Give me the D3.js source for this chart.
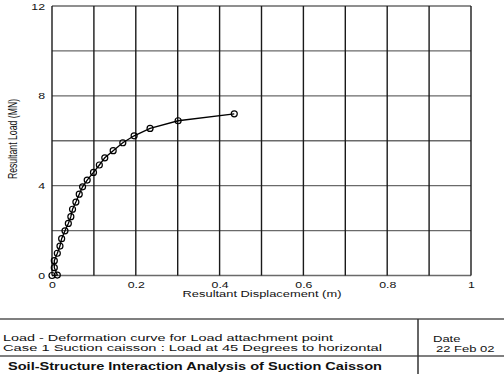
<!DOCTYPE html>
<html>
<head>
<meta charset="utf-8">
<script src="https://cdn.jsdelivr.net/npm/d3@7"></script>
<style>
  html, body { margin: 0; padding: 0; background: #fff; }
  svg { display: block; font-family: "Liberation Sans", Arial, sans-serif; }
</style>
</head>
<body>
<svg id="chart" width="504" height="374"></svg>
<script>
// ---- data ----
const displacement = [0, 0.0127, 0.0055, 0.0055, 0.0127, 0.019, 0.023, 0.031, 0.039, 0.045, 0.049,
  0.057, 0.065, 0.073, 0.084, 0.099, 0.113, 0.126, 0.146, 0.169, 0.196, 0.234, 0.301, 0.435];
const load = [0, 0.02, 0.35, 0.66, 0.99, 1.31, 1.64, 1.99, 2.32, 2.62, 2.95,
  3.27, 3.62, 3.95, 4.25, 4.59, 4.92, 5.24, 5.56, 5.91, 6.22, 6.55, 6.89, 7.20];
const xTickValues = [0, 0.2, 0.4, 0.6, 0.8, 1];
const xTickLabels = ["0", "0.2", "0.4", "0.6", "0.8", "1"];
const xGridValues = [0, 0.1, 0.2, 0.3, 0.4, 0.5, 0.6, 0.7, 0.8, 0.9, 1];
const yTickValues = [0, 4, 8, 12];
const yTickLabels = ["0", "4", "8", "12"];
const yGridValues = [0, 2, 4, 6, 8, 10, 12];
const xTitle = "Resultant Displacement (m)";
const yTitle = "Resultant Load (MN)";
const tableLine1 = "Load - Deformation curve for Load attachment point";
const tableLine2 = "Case 1 Suction caisson : Load at 45 Degrees to horizontal";
const tableTitle = "Soil-Structure Interaction Analysis of Suction Caisson";
const dateLabel = "Date";
const dateValue = "22 Feb 02";

const points = displacement.map((d, i) => ({ x: d, y: load[i] }));

const svg = d3.select("#chart");
const SX = 1.4; // horizontal stretch of the original text

const x = d3.scaleLinear().domain([0, 1]).range([52, 471]);
const y = d3.scaleLinear().domain([0, 12]).range([275.5, 6]);

function stretchedText(g, px, py, str, size, anchor, weight) {
  return g.append("text")
    .attr("transform", `translate(${px},${py}) scale(${SX},1)`)
    .attr("text-anchor", anchor || "start")
    .attr("font-size", size)
    .attr("font-weight", weight || "normal")
    .attr("fill", "#111")
    .text(str);
}

// grid: horizontal (grey) lines
svg.append("g").selectAll("line").data(yGridValues).join("line")
  .attr("x1", x(0)).attr("x2", x(1))
  .attr("y1", d => y(d)).attr("y2", d => y(d))
  .attr("stroke", "#6a6a6a").attr("stroke-width", 1.4);

// grid: vertical (dark) lines
svg.append("g").selectAll("line").data(xGridValues).join("line")
  .attr("x1", d => x(d)).attr("x2", d => x(d))
  .attr("y1", y(0)).attr("y2", y(12))
  .attr("stroke", "#1a1a1a").attr("stroke-width", 1.4);

// axis tick labels
const xAxis = d3.axisBottom(x).tickValues(xTickValues).tickFormat((d, i) => xTickLabels[i]).tickSize(0);
const yAxis = d3.axisLeft(y).tickValues(yTickValues).tickFormat((d, i) => yTickLabels[i]).tickSize(0);

const gx = svg.append("g").attr("transform", `translate(0,${y(0)})`).call(xAxis);
gx.select(".domain").remove();
gx.selectAll(".tick text")
  .attr("y", 0).attr("dy", 0)
  .attr("transform", `translate(0,12) scale(${SX},1)`)
  .attr("font-size", 8.8).attr("font-family", null).attr("fill", "#111");

const gy = svg.append("g").attr("transform", `translate(45,0)`).call(yAxis);
gy.select(".domain").remove();
gy.selectAll(".tick text")
  .attr("x", 0).attr("dy", 0)
  .attr("transform", `translate(0,3) scale(${SX},1)`)
  .attr("font-size", 8.8).attr("font-family", null).attr("fill", "#111");

// axis titles
stretchedText(svg, (x(0) + x(1)) / 2 + 0.5, 297, xTitle, 9.2, "middle");
svg.append("text")
  .attr("transform", `translate(17,139) scale(${SX},1) rotate(-90)`)
  .attr("text-anchor", "middle")
  .attr("font-size", 8.7)
  .attr("fill", "#111")
  .text(yTitle);

// curve
const line = d3.line().x(d => x(d.x)).y(d => y(d.y));
svg.append("path").datum(points)
  .attr("d", line).attr("fill", "none")
  .attr("stroke", "#000").attr("stroke-width", 1.3);

svg.append("g").selectAll("circle").data(points).join("circle")
  .attr("cx", d => x(d.x)).attr("cy", d => y(d.y))
  .attr("r", 3)
  .attr("fill", "none").attr("stroke", "#000").attr("stroke-width", 1.2);

// bottom title block
const tb = svg.append("g");
tb.append("line").attr("x1", 0).attr("x2", 504).attr("y1", 319).attr("y2", 319)
  .attr("stroke", "#555").attr("stroke-width", 1.5);
tb.append("line").attr("x1", 0).attr("x2", 504).attr("y1", 356).attr("y2", 356)
  .attr("stroke", "#555").attr("stroke-width", 1.5);
tb.append("line").attr("x1", 418).attr("x2", 418).attr("y1", 319).attr("y2", 374)
  .attr("stroke", "#333").attr("stroke-width", 1.5);

tb.append("text").attr("x", 3).attr("y", 340.5)
  .attr("font-size", 9.6).attr("fill", "#111")
  .attr("textLength", 330).attr("lengthAdjust", "spacingAndGlyphs")
  .text(tableLine1);
tb.append("text").attr("x", 3).attr("y", 351)
  .attr("font-size", 9.6).attr("fill", "#111")
  .attr("textLength", 379).attr("lengthAdjust", "spacingAndGlyphs")
  .text(tableLine2);
tb.append("text").attr("x", 8).attr("y", 369.5)
  .attr("font-size", 10.5).attr("font-weight", "bold").attr("fill", "#111")
  .attr("textLength", 374).attr("lengthAdjust", "spacingAndGlyphs")
  .text(tableTitle);
stretchedText(tb, 433, 342, dateLabel, 9.3, "start");
stretchedText(tb, 436, 352, dateValue, 9.3, "start");
</script>
</body>
</html>
